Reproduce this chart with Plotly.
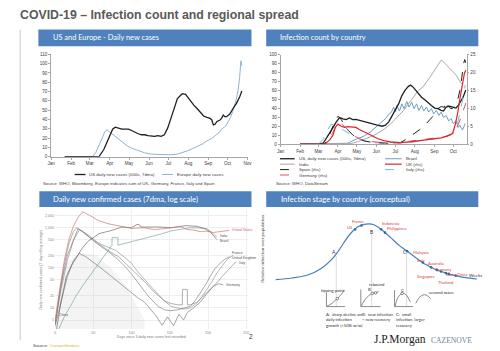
import math
import plotly.graph_objects as go

W, H = 500, 351
def X(px): return px / W
def Y(py): return 1 - py / H

FONT = "Liberation Sans"
HFONT = "Lato"

# ---------------- Panel 1: US and Europe daily new cases (x = day of 2020) -------------
months = ["Jan", "Feb", "Mar", "Apr", "May", "Jun", "Jul", "Aug", "Sep", "Oct", "Nov"]
month_start = [0, 31, 60, 91, 121, 152, 182, 213, 244, 274, 305]

p1_us_day = [21, 60, 74.2, 81.8, 89.4, 95.5, 99.6, 104.7, 109.8, 114.8, 119.9, 125, 130.1, 135.2, 140.2,
             145.3, 150.4, 155.5, 160.6, 165.7, 170.7, 175.8, 180.9, 186, 191, 196.1, 201.2, 203.8, 208.8,
             213.9, 216.5, 221.5, 226.6, 231.7, 236.8, 241.9, 246.9, 249.5, 252, 254.6, 257.1, 262.2, 264.7,
             267.3, 269.8, 272.4, 277.4, 282.5, 287.6, 292.7, 296.2]
p1_us_val = [0, 0, 0, 7.8, 20, 29.6, 31.7, 30.7, 29.6, 29.6, 29.6, 28.2, 26.1, 24.7, 23.6, 23.6, 22.6, 21.9,
             21.9, 22.6, 21.9, 23.6, 30.7, 41.2, 51.8, 62.4, 66, 67.7, 67, 62.4, 59, 55.4, 51.8, 48.3, 43.7,
             42.3, 41.2, 39.5, 34.2, 34.9, 37.7, 39.5, 41.2, 44.8, 43, 43, 45.8, 51.8, 57, 64.2, 70.5]
p1_eu_day = [21, 63.9, 69.1, 74.2, 79.3, 83.3, 86.9, 90.4, 94.5, 99.6, 104.7, 109.8, 117.4, 125, 135.2, 145.3,
             155.5, 170.7, 186, 196.1, 203.8, 211.4, 219, 226.6, 234.2, 241.9, 249.5, 257.1, 262.2, 264.7,
             268.3, 271.3, 274.9, 278.5, 282.5, 286.6, 290.2, 292.7, 294.7, 296.2]
p1_eu_val = [0, 0, 4.2, 11.3, 20, 27, 29, 27, 24.7, 21.9, 18.3, 15.5, 12, 9.2, 6.3, 4.2, 2.8, 2.1, 2.1, 2.8,
             4.2, 6.3, 8.5, 10.6, 13.4, 16.9, 19.7, 24, 26.8, 29.6, 31.7, 33, 37.7, 42.3, 49.4, 59, 71, 85,
             103, 97.7]
p1_names = ["US daily new cases (000s, 7dma)", "Europe daily new cases"]

# ---------------- Panel 2: infection count by country ----------------
p2_us_day = [31, 60, 67.5, 72.8, 80.6, 88.4, 93.6, 98.8, 104, 109.2, 114.4, 119.6, 124.8, 130, 137.8, 145.6,
             153.4, 161.2, 166.4, 171.6, 176.8, 182, 187.2, 192.4, 197.6, 202.8, 206.4, 210.6, 214.7, 218.4,
             223.6, 228.8, 234, 239.2, 244.4, 249.6, 254.8, 258.4, 262.6, 267.8, 273, 278.2, 281.8, 286,
             289.6, 293.8]
p2_us_val = [0, 0, 1.1, 6.6, 15.8, 24.9, 29.7, 28.2, 27.5, 29.3, 27.5, 27.8, 26.7, 26, 24.2, 22.3, 21.2, 20.1,
             21.2, 24.9, 31.1, 37.7, 45, 54.2, 60.4, 64.5, 65.9, 63.4, 59.7, 56.8, 52.4, 49.5, 45.8, 43.2,
             40.3, 39.6, 37.7, 37, 41.4, 42.5, 41.4, 40.3, 43.2, 48.7, 52.4, 60.4]
p2_india_day = [31, 96.2, 111.8, 122.2, 132.6, 143, 153.4, 163.8, 174.2, 184.6, 195, 202.8, 210.6, 218.4,
                226.2, 231.4, 236.6, 241.8, 247, 251.1, 254.8, 258.4, 262.6, 267.8, 273, 278.2, 283.4, 287.5]
p2_india_val = [0, 0, 0.7, 2.9, 5.5, 8.4, 12, 16.5, 22.3, 29.7, 37.7, 45, 52.4, 59.7, 64.1, 68.9, 74.4, 79.9,
                85.3, 90.8, 93.8, 91.9, 89, 85.3, 81.7, 77.3, 71.4, 67]
p2_brazil_day = [31, 101.4, 106.6, 117, 132.5, 143, 150.8, 158.6, 166.4, 171.6, 175.7, 179.4, 182, 184.6, 188.7,
                 192.4, 196, 200.2, 203.8, 208, 211.6, 215.8, 219.4, 223.6, 227.2, 231.4, 235, 239.2, 242.8,
                 247, 251.1, 254.8, 258.4, 262.6, 266.7, 270.4, 274, 278.2, 281.8, 284.4, 288.6, 291.2, 292.7]
p2_brazil_val = [0, 0.4, 1.1, 4.8, 9.2, 13.9, 18.7, 23.8, 28.6, 33.3, 35.5, 41.4, 35.9, 43.2, 37, 45, 39.6,
                 47.6, 41.4, 46.9, 39.6, 45, 37.7, 43.2, 37, 41.4, 35.9, 39.6, 34, 37.7, 32.2, 35.9, 29.7, 32.2,
                 26, 28.6, 23.1, 26, 18.7, 21.2, 15.8, 20.1, 23.1]
p2_uk_day = [31, 70, 78, 83.2, 86.8, 91, 96.2, 101.4, 106.6, 114.4, 119.6, 124.8, 132.6, 143, 153.4, 163.8,
             174.2, 189.8, 205.4, 215.8, 226.2, 236.6, 247, 254.8, 262.6, 267.8, 273, 277.1, 280.8, 284.4,
             287.5, 289.6, 291.7, 293.8]
p2_uk_val = [0, 0, 1.2, 2.6, 4.7, 5.6, 5, 4.7, 4.9, 4.9, 4.7, 4.1, 3.5, 2.6, 1.6, 1.0, 0.64, 0.46, 0.64, 0.9,
             1.0, 1.4, 1.5, 1.8, 2.2, 2.6, 3.0, 5.5, 8.5, 12.5, 16, 18, 19.8, 20.6]
p2_spain_day = [31, 70, 76.4, 81.6, 86.8, 91, 96.2, 101.4, 107.6, 114.4, 122.2, 132.6, 148, 174.2, 189.8,
                197.6, 205.4, 213.2, 221, 228.8, 236.6, 244.4, 249.6, 254.8, 260, 262, 265.2, 270.4, 273,
                275.6, 280.8, 284.4, 287.5, 290.1, 292.2, 293.8]
p2_spain_val = [0, 0, 2.1, 4.4, 6.7, 7.8, 6.9, 5.3, 3.8, 2.6, 1.6, 0.9, 0.46, 0.27, 0.46, 1.2, 2.1, 3.0, 4.1,
                5.3, 6.7, 8.3, 9.9, 10.5, 10.3, 12, 10.8, 9.9, 10, 10.5, 12.2, 14.9, 18.6, 22.3, 23.6, 22.7]
p2_germany_day = [31, 68, 75, 82, 88, 92, 97, 103, 110, 118, 128, 140, 160, 190, 220, 245, 258, 266, 272, 277,
                  282, 286, 290, 294]
p2_germany_val = [0, 0, 1.0, 3.0, 5.2, 6.2, 5.6, 4.6, 3.4, 2.2, 1.3, 0.8, 0.5, 0.5, 1.2, 1.6, 2.0, 2.4, 2.8,
                  3.8, 5.5, 7.5, 9.8, 11.5]
p2_italy_day = [31, 55, 62, 68, 74, 80, 86, 92, 100, 110, 120, 135, 150, 170, 200, 230, 250, 262, 270, 276,
                281, 285, 289, 293]
p2_italy_val = [0, 0, 0.3, 1.5, 3.8, 5.6, 5.3, 4.6, 3.9, 2.9, 1.8, 0.9, 0.4, 0.25, 0.3, 1.2, 1.6, 2.0, 2.6,
                3.8, 6.0, 9.0, 12.5, 16.5]
p2_names_left = ["US, daily new cases (000s, 7dma)", "India", "Spain (rhs)", "Germany (rhs)"]
p2_names_right = ["Brazil", "UK (rhs)", "Italy (rhs)"]

# ---------------- Panel 3: daily new confirmed cases, log scale ----------------
p3_us_day = [0, 6, 12, 18, 24, 30, 36, 44, 57, 70, 79, 87, 100, 115, 130, 143, 151, 164, 173, 180, 190, 198,
             207, 215, 224, 228]
p3_us_val = [5, 30, 150, 500, 1100, 1800, 2500, 2100, 1500, 1250, 1140, 1050, 960, 1000, 900, 950, 1000, 1060,
             900, 880, 800, 820, 760, 800, 840, 860]
p3_brazil_day = [2, 8, 14.6, 21, 27.4, 35, 42.4, 50, 57.4, 66, 74.5, 87, 100, 107, 110, 112, 117, 125, 137,
                 151.5, 163, 171, 186, 195, 203, 208, 211.5]
p3_brazil_val = [3, 15, 60, 110, 173, 300, 445, 560, 712, 785, 860, 1040, 1000, 1200, 1200, 1040, 1040, 1080,
                 1040, 1000, 1080, 1130, 1080, 960, 785, 620, 508]
p3_india_day = [5, 12, 20, 27.4, 37, 46.6, 57.4, 66, 74.5, 74.5, 82.2, 82.2, 90, 100, 113, 126, 139, 151.5,
                165, 177, 188, 198.6, 205, 211.5]
p3_india_val = [3, 6, 11, 20, 38, 68, 130, 220, 367, 567, 567, 367, 400, 445, 510, 590, 700, 830, 930, 1000,
                990, 945, 760, 590]
p3_france_day = [0, 8, 16, 24, 30, 38, 48.8, 60, 70, 81, 91.6, 100, 108.8, 115, 121.6, 128, 134.5, 143, 151.5,
                 160, 168, 177, 184, 190, 197, 203, 209, 215.7, 222, 228.6]
p3_france_val = [4, 40, 200, 520, 950, 750, 490, 340, 253, 170, 108, 70, 42, 30, 20, 15, 11, 9, 8.5, 9, 10, 11,
                 16, 24, 38, 62, 95, 130, 165, 190]
p3_uk_day = [0, 8, 16, 24, 32, 44, 57.4, 68, 78.7, 90, 100, 108, 117, 125, 134.5, 143, 151.5, 160, 168.6, 177,
             186, 192, 198.6, 205, 211.5, 218, 224.4, 233]
p3_uk_val = [4, 30, 150, 480, 900, 650, 405, 330, 277, 190, 130, 80, 51, 35, 22, 15, 11, 10, 9.3, 10, 13.5,
             19, 29, 45, 74, 110, 157, 210]
p3_germany_day = [0, 8, 16, 24, 31.7, 40, 48, 57.4, 68, 78.7, 90, 100, 108, 117, 125, 132, 140, 147, 155, 162,
                  168, 173, 181, 190, 198, 207, 214, 220]
p3_germany_val = [3.5, 15, 60, 150, 230, 190, 150, 108, 75, 51, 34, 24, 18, 14, 9, 6.4, 3.7, 6, 3.6, 7, 5, 7.7,
                  10, 14, 22, 35, 40, 38]
p3_italy_day = [0, 6, 12, 18, 24, 28, 36, 44.6, 53, 61.6, 72, 83, 92, 100, 106, 113, 120, 126, 135, 143, 151,
                160, 166.5, 166.6, 173, 173.1, 177, 186, 194, 203, 211.5, 218, 224.4, 231, 237]
p3_italy_val = [4, 25, 120, 400, 800, 1000, 800, 590, 450, 335, 250, 190, 130, 98, 75, 56, 40, 29, 20, 15, 13,
                12, 12, 29, 29, 12, 12, 14, 20, 30, 42, 60, 82, 110, 144]
p3_cloud_day = [0, 2, 8, 15, 25, 36, 48, 57, 68, 79, 90, 100, 110, 117, 117, 0]
p3_cloud_val = [3, 20, 60, 130, 190, 230, 220, 190, 120, 74, 40, 20, 9, 5, 2.95, 2.95]
p3_ticks = [5, 10, 20, 50, 100, 200, 500, 1000, 2000]
p3_ticktext = ["5", "10", "20", "50", "100", "200", "500", "1,000", "2,000"]
p3_xticks = [0, 50, 100, 150, 200, 250]
p3_labels = ["United States", "India", "Brazil", "France", "United Kingdom", "Italy", "Germany", "China"]
p3_label_day = [229, 213, 213, 229, 229, 238, 221, 2]
p3_label_val = [860, 640, 470, 230, 180, 135, 38, 6.6]

# ---------------- Panel 4: infection stage (conceptual) ----------------
p4_curve_w = [3.33, 6.67, 10, 12.67, 14.67, 16, 17.33, 18.67, 20, 21.33, 22.33, 23.33, 24.67, 26, 27.33,
              28.67, 30, 32, 34, 36, 38, 40, 42, 44.33]
p4_curve_r = [0.022, 0.052, 0.109, 0.224, 0.368, 0.511, 0.684, 0.839, 0.943, 0.989, 1.0, 0.983, 0.914, 0.816,
              0.713, 0.609, 0.529, 0.397, 0.282, 0.195, 0.138, 0.092, 0.057, 0.034]
p4_country = ["US", "France", "Indonesia", "Philippines", "Malaysia", "Italy", "Australia", "Germany", "Korea",
              "China", "Singapore", "Thailand"]
p4_dot_w = [19.5, 20.8, 24.8, 25.6, 30.1, 33.3, 35.0, 37.0, 38.0, 40.0, 36.2, 38.6]
p4_dot_r = [0.90, 0.97, 0.905, 0.845, 0.52, 0.322, 0.238, 0.166, 0.138, 0.092, 0.19, 0.124]
p4_lab_w = [19.4, 20.0, 26.7, 28.0, 30.8, 33.0, 35.9, 37.6, 39.0, 41.3, 34.0, 37.9]
p4_lab_r = [0.93, 1.046, 1.012, 0.925, 0.5, 0.35, 0.30, 0.20, 0.113, 0.112, 0.075, -0.02]
p4_lab_anchor = ["right", "center", "center", "center", "left", "center", "center", "center", "center",
                 "center", "center", "center"]
p4_stage = ["A", "B", "C"]
p4_stage_w = [15.3, 22.9, 30.4]
p4_stage_r = [0.511, 0.856, 0.5]
p4_conn_w = [15.67, 15.67, None, 22.87, 22.87, None, 30.0, 30.0]
p4_conn_r = [0.437, -0.448, None, 0.83, -0.448, None, 0.5, -0.448]
p4_inset_axes_w = [13.67, 13.67, 17.47, None, 20.67, 20.67, 24.67, None, 27.53, 27.53, 31.33]
p4_inset_axes_r = [-0.207, -0.448, -0.448, None, -0.149, -0.448, -0.448, None, -0.161, -0.448, -0.448]
p4_a_w = [13.8, 14.33, 14.8, 15.33, 15.87, 16.4, 16.93, 17.33]
p4_a_r = [-0.437, -0.419, -0.391, -0.351, -0.31, -0.264, -0.207, -0.161]
p4_b_w = [20.8, 21.2, 21.67, 22.33, 23, 23.67, 24.33]
p4_b_r = [-0.437, -0.368, -0.31, -0.253, -0.218, -0.207, -0.184]
p4_c_w = [27.67, 28, 28.53, 29.07, 29.6, 30.13, 30.53, 30.8]
p4_c_r = [-0.437, -0.333, -0.253, -0.218, -0.224, -0.264, -0.333, -0.368]
p4_wave_w = [31.87, 32.4, 33, 33.67, 34.33, 34.87]
p4_wave_r = [-0.391, -0.31, -0.259, -0.241, -0.264, -0.31]
p4_mark_w = [15.87, 23.0, 23.67, 29.07]
p4_mark_r = [-0.31, -0.218, -0.207, -0.218]
p4_notes = ["A:  sharp decline on<br>daily infection<br>growth (<50% w/w)",
            "B:  new infection<br>< new recovery",
            "C:  small<br>infection, larger<br>recovery"]
p4_note_w = [13.13, 20.53, 27.53]

fig = go.Figure()

def line(x, y, color, width=1.0, dash="solid", xa="x", ya="y", shape="linear", fill=None, fillcolor=None):
    fig.add_trace(go.Scatter(x=x, y=y, mode="lines", xaxis=xa, yaxis=ya, hoverinfo="skip",
                             line=dict(color=color, width=width, dash=dash, shape=shape),
                             fill=fill, fillcolor=fillcolor, showlegend=False))

# Panel 1
C_EU = "#8fb3cc"
C_US = "#1f1f1f"
line(p1_eu_day, p1_eu_val, C_EU, 1.0)
line(p1_us_day, p1_us_val, C_US, 1.3)

# Panel 2
C_BR = "#6f9cc0"; C_IN = "#a8a8a8"; C_UK = "#e0242c"; C_SP = "#1f1f1f"; C_DE = "#e0505e"; C_IT = "#68c3dd"
line(p2_brazil_day, p2_brazil_val, C_BR, 1.0, xa="x2", ya="y2")
line(p2_india_day, p2_india_val, C_IN, 1.0, xa="x2", ya="y2")
line(p2_us_day, p2_us_val, C_US, 1.3, xa="x2", ya="y2")
line(p2_italy_day, p2_italy_val, C_IT, 1.0, "dash", xa="x2", ya="y3")
line(p2_germany_day, p2_germany_val, C_DE, 1.0, "dash", xa="x2", ya="y3")
line(p2_spain_day, p2_spain_val, C_SP, 1.0, "dash", xa="x2", ya="y3")
line(p2_uk_day, p2_uk_val, C_UK, 1.2, xa="x2", ya="y3")

# Panel 3
line(p3_cloud_day, p3_cloud_val, "rgba(0,0,0,0)", 0, xa="x3", ya="y4", fill="toself",
     fillcolor="rgba(170,170,170,0.13)")
line(p3_germany_day, p3_germany_val, "#6a6a6a", 0.6, xa="x3", ya="y4")
line(p3_italy_day, p3_italy_val, "#7a7a7a", 0.6, xa="x3", ya="y4")
line(p3_uk_day, p3_uk_val, "#888888", 0.6, xa="x3", ya="y4")
line(p3_france_day, p3_france_val, "#707070", 0.6, xa="x3", ya="y4")
line(p3_india_day, p3_india_val, "#6a9990", 0.6, xa="x3", ya="y4")
line(p3_brazil_day, p3_brazil_val, "#555555", 0.6, xa="x3", ya="y4")
line(p3_us_day, p3_us_val, "#d27474", 0.7, xa="x3", ya="y4")

# Panel 4
line(p4_conn_w, p4_conn_r, "#cccccc", 0.7, xa="x4", ya="y5")
line(p4_curve_w, p4_curve_r, "#4a7fb5", 1.2, xa="x4", ya="y5", shape="spline")
fig.add_trace(go.Scatter(x=p4_dot_w, y=p4_dot_r, mode="markers", xaxis="x4", yaxis="y5", hoverinfo="skip",
                         marker=dict(color="#2f6aa8", size=2.6), showlegend=False))
line(p4_inset_axes_w, p4_inset_axes_r, "#404040", 0.6, xa="x4", ya="y5")
line(p4_a_w, p4_a_r, "#404040", 0.6, xa="x4", ya="y5", shape="spline")
line(p4_b_w, p4_b_r, "#404040", 0.6, xa="x4", ya="y5", shape="spline")
line(p4_c_w, p4_c_r, "#404040", 0.6, xa="x4", ya="y5", shape="spline")
line(p4_wave_w, p4_wave_r, "#404040", 0.6, xa="x4", ya="y5", shape="spline")
fig.add_trace(go.Scatter(x=p4_mark_w, y=p4_mark_r, mode="markers", xaxis="x4", yaxis="y5", hoverinfo="skip",
                         marker=dict(color="white", size=2.6, line=dict(color="#404040", width=0.6)),
                         showlegend=False))

# ---------------- Axes ----------------
tf = dict(family=FONT, size=4.6, color="#404040")
base = dict(showgrid=False, zeroline=False, showline=True, linecolor="#a6a6a6", linewidth=0.8,
            ticks="outside", ticklen=2, tickcolor="#a6a6a6", tickfont=tf, fixedrange=True)

layout_axes = dict(
    xaxis=dict(domain=[X(48), X(248)], range=[0, 305], tickvals=month_start, ticktext=months, anchor="y", **base),
    yaxis=dict(domain=[Y(157), Y(53)], range=[0, 110], dtick=10, anchor="x", **base),
    xaxis2=dict(domain=[X(281.7), X(471)], range=[0, 295], tickvals=month_start[:10], ticktext=months[:10],
                anchor="y2", **base),
    yaxis2=dict(domain=[Y(144.3), Y(53.3)], range=[0, 100], dtick=10, anchor="x2", **base),
    yaxis3=dict(range=[0, 25], dtick=5, overlaying="y2", side="right", anchor="x2", **base),
    xaxis3=dict(domain=[X(52), X(248)], range=[0, 251.7], tickvals=p3_xticks, anchor="y4",
                showgrid=True, gridcolor="#efefef", gridwidth=0.6, zeroline=False, showline=False,
                ticks="", tickfont=dict(family=FONT, size=3.6, color="#888888"), fixedrange=True,
                title=dict(text="Days since 3 daily new cases first recorded",
                           font=dict(family=FONT, size=3.6, color="#777777"), standoff=1)),
    yaxis4=dict(domain=[Y(332), Y(211)], type="log", range=[0.469, 3.442], tickvals=p3_ticks,
                ticktext=p3_ticktext, anchor="x3", showgrid=True, gridcolor="#efefef", gridwidth=0.6,
                zeroline=False, showline=False, ticks="", tickfont=dict(family=FONT, size=3.6, color="#888888"),
                fixedrange=True,
                title=dict(text="Daily new confirmed cases (7-day rolling average)",
                           font=dict(family=FONT, size=3.6, color="#777777"), standoff=2)),
    xaxis4=dict(domain=[X(260), 1], range=[0, 48], visible=False, anchor="y5", fixedrange=True),
    yaxis5=dict(domain=[0, Y(215)], range=[-1.1724, 1.1724], visible=False, anchor="x4", fixedrange=True),
)

shapes = []
ann = []

def rect(x0, y0, x1, y1, color):
    shapes.append(dict(type="rect", xref="paper", yref="paper", x0=X(x0), x1=X(x1), y0=Y(y1), y1=Y(y0),
                       fillcolor=color, line=dict(width=0), layer="below"))

def seg(x0, y0, x1, y1, color, width=1.0, dash="solid"):
    shapes.append(dict(type="line", xref="paper", yref="paper", x0=X(x0), x1=X(x1), y0=Y(y0), y1=Y(y1),
                       line=dict(color=color, width=width, dash=dash)))

def text(x, y, s, size=4.6, color="#404040", anchor="left", family=FONT, yanchor="middle", angle=0):
    ann.append(dict(xref="paper", yref="paper", x=X(x), y=Y(y), text=s, showarrow=False, xanchor=anchor,
                    yanchor=yanchor, textangle=angle, font=dict(family=family, size=size, color=color)))

# title
text(14, 13, "<b>COVID-19 – Infection count and regional spread</b>", size=12.3, color="#595959")
# left rule
seg(16.5, 28, 16.5, 343, "#c8c8c8", 1.0)

# headers
HB = "#4f81bd"
rect(35, 28, 252, 45, HB)
rect(267, 28, 483, 45, HB)
rect(36, 192, 252, 208, HB)
rect(267, 192, 483, 208, HB)
text(48, 36.5, "US and Europe - Daily new cases", 7.4, "white", family=HFONT)
text(279, 36.5, "Infection count by country", 7.4, "white", family=HFONT)
text(48, 200, "Daily new confirmed cases (7dma, log scale)", 7.6, "white", family=HFONT)
text(280, 200, "Infection stage by country (conceptual)", 7.6, "white", family=HFONT)

# Panel 1 legend + source
seg(72, 175, 83, 175, C_US, 1.3)
text(85, 175, p1_names[0], 4.4)
seg(161, 175, 172, 175, C_EU, 1.0)
text(174, 175, p1_names[1], 4.4)
text(38, 184, "Source: WHO, Bloomberg. Europe indicates sum of UK, Germany, France, Italy and Spain", 4.3)

# Panel 2 legend + source
rows = [159, 164.5, 170, 175.5]
left_style = [(C_US, 1.3, "solid"), (C_IN, 1.0, "solid"), (C_SP, 1.0, "dash"), (C_DE, 1.0, "dash")]
for i, nm in enumerate(p2_names_left):
    c, w, d = left_style[i]
    seg(281, rows[i], 296, rows[i], c, w, d)
    text(298, rows[i], nm, 4.4)
right_style = [(C_BR, 1.0, "solid"), (C_UK, 1.2, "solid"), (C_IT, 1.0, "dash")]
for i, nm in enumerate(p2_names_right):
    c, w, d = right_style[i]
    seg(388, rows[i], 405, rows[i], c, w, d)
    text(407, rows[i], nm, 4.4)
text(275, 184, "Source: WHO, DataStream", 4.3)

# Panel 3 labels
for i, nm in enumerate(p3_labels):
    ann.append(dict(xref="x3", yref="y4", x=p3_label_day[i], y=math.log10(p3_label_val[i]), text=nm,
                    showarrow=False, xanchor="left", yanchor="middle",
                    font=dict(family=FONT, size=3.4, color="#cf6a6a" if i == 0 else "#555555")))
text(27, 348, "Source: <span style='color:#d9b84a'>Ourworldindata</span>", 4.4)
text(252, 339, "2", 6.5, "#333333", anchor="center")

# Panel 4 labels
for i, nm in enumerate(p4_country):
    ann.append(dict(xref="x4", yref="y5", x=p4_lab_w[i], y=p4_lab_r[i], text=nm, showarrow=False,
                    xanchor=p4_lab_anchor[i], yanchor="middle",
                    font=dict(family=HFONT, size=4.1, color="#d0403a")))
for i, nm in enumerate(p4_stage):
    ann.append(dict(xref="x4", yref="y5", x=p4_stage_w[i], y=p4_stage_r[i], text=nm, showarrow=False,
                    xanchor="right" if nm == "C" else "center", yanchor="middle",
                    font=dict(family=HFONT, size=5, color="#303030")))
ann.append(dict(xref="x4", yref="y5", x=44.0, y=0.1, text="Weeks", showarrow=False, xanchor="center",
                yanchor="middle", font=dict(family=HFONT, size=4.4, color="#303030")))
ann.append(dict(xref="x4", yref="y5", x=15.07, y=-0.161, text="tipping point", showarrow=False,
                xanchor="center", yanchor="middle", font=dict(family=HFONT, size=4.2, color="#303030")))
ann.append(dict(xref="x4", yref="y5", x=22.4, y=-0.149, text="B", showarrow=False,
                xanchor="center", yanchor="middle", font=dict(family=HFONT, size=4.4, color="#303030")))
ann.append(dict(xref="x4", yref="y5", x=24.0, y=-0.069, text="rebound", showarrow=False,
                xanchor="center", yanchor="middle", font=dict(family=HFONT, size=4.2, color="#303030")))
ann.append(dict(xref="x4", yref="y5", x=29.13, y=-0.161, text="C", showarrow=False,
                xanchor="center", yanchor="middle", font=dict(family=HFONT, size=4.4, color="#303030")))
ann.append(dict(xref="x4", yref="y5", x=34.2, y=-0.205, text="second wave", showarrow=False,
                xanchor="left", yanchor="middle", font=dict(family=HFONT, size=4.4, color="#303030")))
for i, nt in enumerate(p4_notes):
    ann.append(dict(xref="x4", yref="y5", x=p4_note_w[i], y=-0.515, text=nt, showarrow=False,
                    xanchor="left", yanchor="top", align="left",
                    font=dict(family=HFONT, size=4.2, color="#303030")))
text(263, 250, "Relative infection over population", 4.6, "#404040", anchor="center", family=HFONT, angle=-90)

# logo
text(375, 342, "J.P.Morgan", 11.5, "#1a1a1a", family="Liberation Serif")
text(433, 343, "CAZENOVE", 7.6, "#6d8299", family="Liberation Serif")

fig.update_layout(width=W, height=H, margin=dict(l=0, r=0, t=0, b=0), paper_bgcolor="white",
                  plot_bgcolor="white", showlegend=False, shapes=shapes, annotations=ann, **layout_axes)
fig.write_html("out.html")
